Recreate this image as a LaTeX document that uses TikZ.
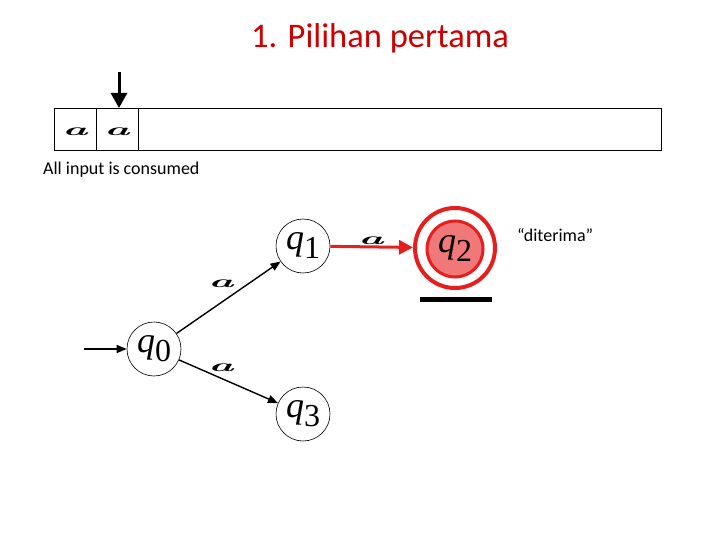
\documentclass[tikz,border=0pt]{standalone}
\usepackage{fontspec}
\setmainfont{Carlito}
\newfontfamily\stfont{Liberation Serif}
\usetikzlibrary{arrows.meta}
\definecolor{titlered}{RGB}{204,0,0}
\definecolor{ringred}{RGB}{230,30,30}
\definecolor{fillred}{RGB}{240,120,120}
\newcommand{\sym}{\scalebox{2.5}[1]{\fontspec{Latin Modern Roman}\fontsize{17}{17}\selectfont\bfseries\itshape a}}
\newcommand{\stname}[1]{{\stfont\fontsize{36}{36}\selectfont\itshape q\raisebox{-9pt}{\upshape\fontsize{32}{32}\selectfont #1}}}
\begin{document}
\begin{tikzpicture}[x=1pt,y=-1pt,
  state/.style={circle,draw=black,line width=0.6pt,minimum size=54pt,inner sep=0pt},
  edge/.style={line width=1.4pt,-{Triangle[length=10pt,width=8pt]}},
  lbl/.style={inner sep=0pt}]
\useasboundingbox (0,0) rectangle (720,540);
\node[text=titlered,font=\fontsize{34.5}{34.5}\selectfont] (title) at (380,38) {1. Pilihan pertama};
% tape
\draw[line width=0.7pt] (54,108) rectangle (661,150);
\draw[line width=0.7pt] (96,108) -- (96,150);
\draw[line width=0.7pt] (138,108) -- (138,150);
\node[lbl] (c1) at (75,132) {\sym};
\node[lbl] (c2) at (117,132) {\sym};
\coordinate (hd0) at (119,72);
\coordinate (hd1) at (119,108);
\draw[line width=3pt,-{Triangle[length=15pt,width=16pt]}] (hd0) -- (hd1);
\node[anchor=west,font=\fontsize{18}{18}\selectfont,inner sep=0pt] (msg) at (43,170) {All input is consumed};
% states
\node[state] (q0) at (154,349) {\stname{0}};
\node[state] (q1) at (303,246) {\stname{1}};
\node[state] (q3) at (303,414) {\stname{3}};
\node[circle,draw=ringred,line width=4pt,minimum size=80pt,inner sep=0pt] (q2o) at (455,248) {};
\node[circle,draw=ringred,fill=fillred,line width=3pt,minimum size=56pt,inner sep=0pt] (q2) at (455,249) {\stname{2}};
\coordinate (bar0) at (420,299);
\coordinate (bar1) at (492,299);
\draw[line width=5pt] (bar0) -- (bar1);
\node[anchor=west,font=\fontsize{18}{18}\selectfont,inner sep=0pt] (acc) at (517,235) {“diterima”};
% edges
\coordinate (init) at (84,349);
\draw[edge] (init) -- (q0);
\draw[edge] (q0) -- (q1);
\draw[edge] (q0) -- (q3);
\draw[line width=3pt,ringred,-{Triangle[length=14pt,width=14pt]}] (q1) -- (q2o);
\node[lbl] (l1) at (221,284) {\sym};
\node[lbl] (l3) at (221,368) {\sym};
\node[lbl] (l2) at (371,241) {\sym};
\end{tikzpicture}
\end{document}
